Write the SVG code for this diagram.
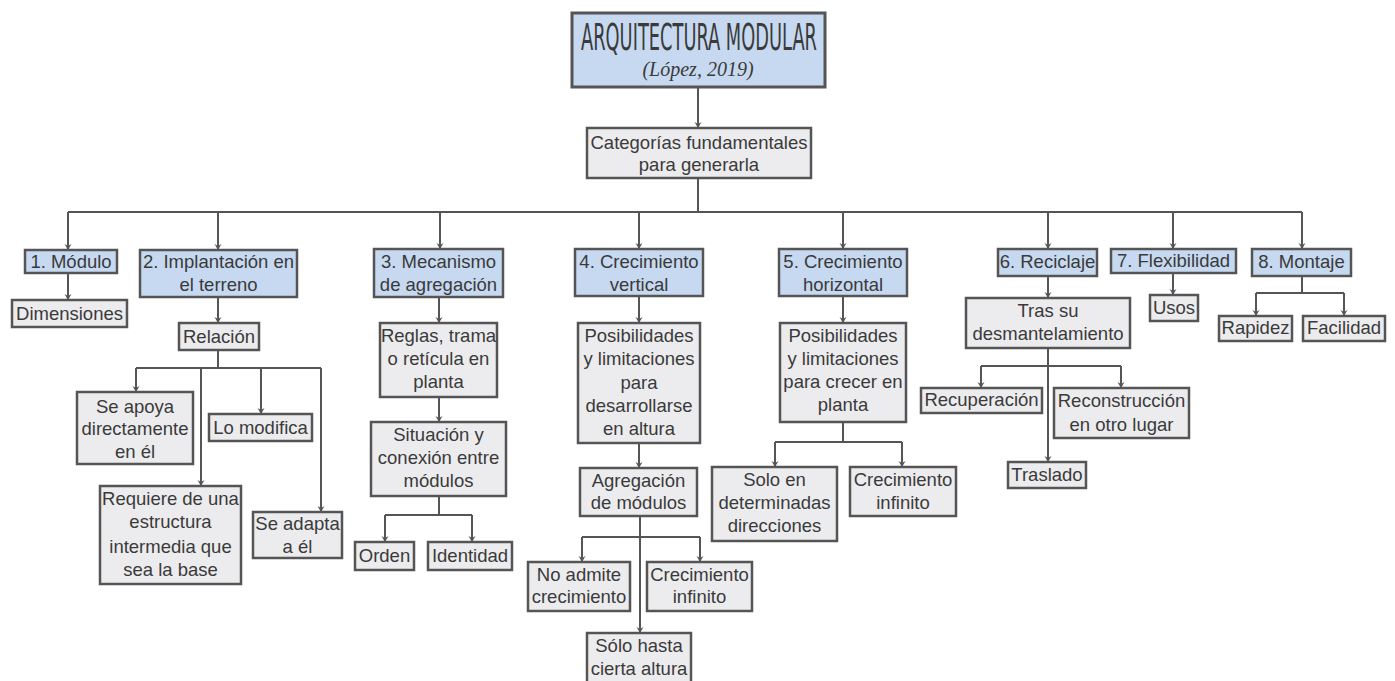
<svg xmlns="http://www.w3.org/2000/svg" width="1395" height="681" viewBox="0 0 1395 681">
  <defs>
    <marker id="arrow" markerWidth="8" markerHeight="8" refX="4" refY="7" orient="0" markerUnits="userSpaceOnUse">
      <path d="M0.5,1 L4,7 L7.5,1 L4,3 Z" fill="#555"/>
    </marker>
    <style>
      .bg { fill: #ffffff; }
      .box { fill: #ececee; stroke: #555; stroke-width: 2.5; }
      .cat { fill: #c6d9f0; stroke: #555; stroke-width: 2.5; }
      .title { fill: #c6d9f0; stroke: #555; stroke-width: 3; }
      .lbl { font-family: "Liberation Sans", Arial, sans-serif; font-size: 18.5px; fill: #3a3a3a; text-anchor: middle; }
      .ttl { font-family: "DejaVu Sans Condensed", "Liberation Sans", sans-serif; font-size: 37px; fill: #3a3a3a; text-anchor: middle; }
      .cite { font-family: "Liberation Serif", serif; font-style: italic; font-size: 20px; fill: #3a3a3a; text-anchor: middle; }
      .ln { fill: none; stroke: #555; stroke-width: 2; }
      .arr { fill: none; stroke: #555; stroke-width: 2; marker-end: url(#arrow); }
    </style>
  </defs>
  <rect class="bg" x="0" y="0" width="1395" height="681"/>

  <g id="connectors">
    <path class="arr" d="M698,87 V128"/>
    <path class="ln" d="M698,178 V212"/>
    <path class="ln" d="M68,212 H1302"/>
    <path class="arr" d="M68,212 V250"/>
    <path class="arr" d="M218,212 V250"/>
    <path class="arr" d="M440,212 V249"/>
    <path class="arr" d="M639,212 V249"/>
    <path class="arr" d="M843,212 V249"/>
    <path class="arr" d="M1048,212 V249"/>
    <path class="arr" d="M1173,212 V249"/>
    <path class="arr" d="M1302,212 V249"/>
    <!-- 1 -->
    <path class="arr" d="M68,273 V300"/>
    <!-- 2 -->
    <path class="arr" d="M218,297 V323"/>
    <path class="ln" d="M218,350 V368 M136,368 H321"/>
    <path class="arr" d="M136,368 V392"/>
    <path class="arr" d="M201,368 V486"/>
    <path class="arr" d="M261,368 V414"/>
    <path class="arr" d="M321,368 V512"/>
    <!-- 3 -->
    <path class="arr" d="M439,297 V323"/>
    <path class="arr" d="M439,397 V422"/>
    <path class="ln" d="M439,496 V515 M385,515 H472"/>
    <path class="arr" d="M385,515 V542"/>
    <path class="arr" d="M472,515 V542"/>
    <!-- 4 -->
    <path class="arr" d="M639,296 V323"/>
    <path class="arr" d="M639,443 V468"/>
    <path class="arr" d="M640,516 V633"/>
    <path class="ln" d="M582,537 H700"/>
    <path class="arr" d="M582,537 V562"/>
    <path class="arr" d="M700,537 V562"/>
    <!-- 5 -->
    <path class="arr" d="M843,296 V323"/>
    <path class="ln" d="M843,422 V442 M775,442 H902"/>
    <path class="arr" d="M775,442 V467"/>
    <path class="arr" d="M902,442 V467"/>
    <!-- 6 -->
    <path class="arr" d="M1048,276 V298"/>
    <path class="arr" d="M1048,348 V462"/>
    <path class="ln" d="M981,366 H1121"/>
    <path class="arr" d="M981,366 V388"/>
    <path class="arr" d="M1121,366 V388"/>
    <!-- 7 -->
    <path class="arr" d="M1173,273 V295"/>
    <!-- 8 -->
    <path class="ln" d="M1302,276 V293 M1256,293 H1344"/>
    <path class="arr" d="M1256,293 V316"/>
    <path class="arr" d="M1344,293 V316"/>
  </g>

  <g id="title">
    <rect class="title" x="572" y="13" width="253" height="74"/>
    <text class="ttl" x="699" y="50" textLength="236" lengthAdjust="spacingAndGlyphs">ARQUITECTURA MODULAR</text>
    <text class="cite" x="698" y="76">(López, 2019)</text>
  </g>
  <g id="categorias">
    <rect class="box" x="587" y="128" width="224" height="50"/>
    <text class="lbl" x="699" y="149">Categorías fundamentales</text>
    <text class="lbl" x="699" y="171">para generarla</text>
  </g>

  <g id="modulo">
    <rect class="cat" x="25" y="250" width="92" height="23"/>
    <text class="lbl" x="71" y="268">1. Módulo</text>
  </g>
  <g id="dimensiones">
    <rect class="box" x="12" y="300" width="115" height="27"/>
    <text class="lbl" x="69.5" y="320">Dimensiones</text>
  </g>

  <g id="implantacion">
    <rect class="cat" x="140" y="250" width="157" height="47"/>
    <text class="lbl" x="218.5" y="268">2. Implantación en</text>
    <text class="lbl" x="218.5" y="291">el terreno</text>
  </g>
  <g id="relacion">
    <rect class="box" x="179" y="323" width="80" height="27"/>
    <text class="lbl" x="219" y="343">Relación</text>
  </g>
  <g id="se-apoya">
    <rect class="box" x="77" y="392" width="116" height="72"/>
    <text class="lbl" x="135" y="413">Se apoya</text>
    <text class="lbl" x="135" y="435">directamente</text>
    <text class="lbl" x="135" y="458">en él</text>
  </g>
  <g id="lo-modifica">
    <rect class="box" x="209" y="414" width="103" height="27"/>
    <text class="lbl" x="260.5" y="434">Lo modifica</text>
  </g>
  <g id="requiere">
    <rect class="box" x="100" y="486" width="141" height="98"/>
    <text class="lbl" x="170.5" y="505">Requiere de una</text>
    <text class="lbl" x="170.5" y="528">estructura</text>
    <text class="lbl" x="170.5" y="553">intermedia que</text>
    <text class="lbl" x="170.5" y="576">sea la base</text>
  </g>
  <g id="se-adapta">
    <rect class="box" x="253" y="512" width="89" height="46"/>
    <text class="lbl" x="297.5" y="530">Se adapta</text>
    <text class="lbl" x="297.5" y="553">a él</text>
  </g>

  <g id="mecanismo">
    <rect class="cat" x="374" y="249" width="129" height="48"/>
    <text class="lbl" x="438.5" y="268">3. Mecanismo</text>
    <text class="lbl" x="438.5" y="291">de agregación</text>
  </g>
  <g id="reglas">
    <rect class="box" x="380" y="323" width="117" height="74"/>
    <text class="lbl" x="438.5" y="342">Reglas, trama</text>
    <text class="lbl" x="438.5" y="365">o retícula en</text>
    <text class="lbl" x="438.5" y="388">planta</text>
  </g>
  <g id="situacion">
    <rect class="box" x="371" y="422" width="135" height="74"/>
    <text class="lbl" x="438.5" y="441">Situación y</text>
    <text class="lbl" x="438.5" y="464">conexión entre</text>
    <text class="lbl" x="438.5" y="487">módulos</text>
  </g>
  <g id="orden">
    <rect class="box" x="355" y="542" width="59" height="28"/>
    <text class="lbl" x="384.5" y="562">Orden</text>
  </g>
  <g id="identidad">
    <rect class="box" x="428" y="542" width="84" height="28"/>
    <text class="lbl" x="470" y="562">Identidad</text>
  </g>

  <g id="crecimiento-vertical">
    <rect class="cat" x="575" y="249" width="128" height="47"/>
    <text class="lbl" x="639" y="268">4. Crecimiento</text>
    <text class="lbl" x="639" y="291">vertical</text>
  </g>
  <g id="posibilidades-altura">
    <rect class="box" x="578" y="323" width="122" height="120"/>
    <text class="lbl" x="639" y="342">Posibilidades</text>
    <text class="lbl" x="639" y="365">y limitaciones</text>
    <text class="lbl" x="639" y="389">para</text>
    <text class="lbl" x="639" y="412">desarrollarse</text>
    <text class="lbl" x="639" y="435">en altura</text>
  </g>
  <g id="agregacion">
    <rect class="box" x="580" y="468" width="117" height="48"/>
    <text class="lbl" x="638.5" y="487">Agregación</text>
    <text class="lbl" x="638.5" y="509">de módulos</text>
  </g>
  <g id="no-admite">
    <rect class="box" x="528" y="562" width="102" height="49"/>
    <text class="lbl" x="579" y="581">No admite</text>
    <text class="lbl" x="579" y="603">crecimiento</text>
  </g>
  <g id="infinito-vertical">
    <rect class="box" x="647" y="562" width="105" height="49"/>
    <text class="lbl" x="699.5" y="581">Crecimiento</text>
    <text class="lbl" x="699.5" y="603">infinito</text>
  </g>
  <g id="solo-hasta">
    <rect class="box" x="587" y="633" width="104" height="50"/>
    <text class="lbl" x="639" y="652">Sólo hasta</text>
    <text class="lbl" x="639" y="675">cierta altura</text>
  </g>

  <g id="crecimiento-horizontal">
    <rect class="cat" x="779" y="249" width="128" height="47"/>
    <text class="lbl" x="843" y="268">5. Crecimiento</text>
    <text class="lbl" x="843" y="291">horizontal</text>
  </g>
  <g id="posibilidades-planta">
    <rect class="box" x="780" y="323" width="126" height="99"/>
    <text class="lbl" x="843" y="342">Posibilidades</text>
    <text class="lbl" x="843" y="365">y limitaciones</text>
    <text class="lbl" x="843" y="388">para crecer en</text>
    <text class="lbl" x="843" y="411">planta</text>
  </g>
  <g id="solo-en">
    <rect class="box" x="712" y="467" width="125" height="74"/>
    <text class="lbl" x="774.5" y="486">Solo en</text>
    <text class="lbl" x="774.5" y="509">determinadas</text>
    <text class="lbl" x="774.5" y="532">direcciones</text>
  </g>
  <g id="infinito-horizontal">
    <rect class="box" x="850" y="467" width="106" height="49"/>
    <text class="lbl" x="903" y="486">Crecimiento</text>
    <text class="lbl" x="903" y="509">infinito</text>
  </g>

  <g id="reciclaje">
    <rect class="cat" x="998" y="249" width="99" height="27"/>
    <text class="lbl" x="1047.5" y="268">6. Reciclaje</text>
  </g>
  <g id="tras-su">
    <rect class="box" x="966" y="298" width="164" height="50"/>
    <text class="lbl" x="1048" y="317">Tras su</text>
    <text class="lbl" x="1048" y="340">desmantelamiento</text>
  </g>
  <g id="recuperacion">
    <rect class="box" x="921" y="388" width="121" height="25"/>
    <text class="lbl" x="981.5" y="406">Recuperación</text>
  </g>
  <g id="reconstruccion">
    <rect class="box" x="1054" y="388" width="135" height="50"/>
    <text class="lbl" x="1121.5" y="407">Reconstrucción</text>
    <text class="lbl" x="1121.5" y="431">en otro lugar</text>
  </g>
  <g id="traslado">
    <rect class="box" x="1008" y="462" width="78" height="26"/>
    <text class="lbl" x="1047" y="481">Traslado</text>
  </g>

  <g id="flexibilidad">
    <rect class="cat" x="1111" y="249" width="125" height="24"/>
    <text class="lbl" x="1173.5" y="267">7. Flexibilidad</text>
  </g>
  <g id="usos">
    <rect class="box" x="1150" y="295" width="48" height="26"/>
    <text class="lbl" x="1174" y="314">Usos</text>
  </g>

  <g id="montaje">
    <rect class="cat" x="1252" y="249" width="99" height="27"/>
    <text class="lbl" x="1301.5" y="268">8. Montaje</text>
  </g>
  <g id="rapidez">
    <rect class="box" x="1219" y="316" width="73" height="25"/>
    <text class="lbl" x="1255.5" y="334">Rapidez</text>
  </g>
  <g id="facilidad">
    <rect class="box" x="1303" y="316" width="82" height="25"/>
    <text class="lbl" x="1344" y="334">Facilidad</text>
  </g>
</svg>
